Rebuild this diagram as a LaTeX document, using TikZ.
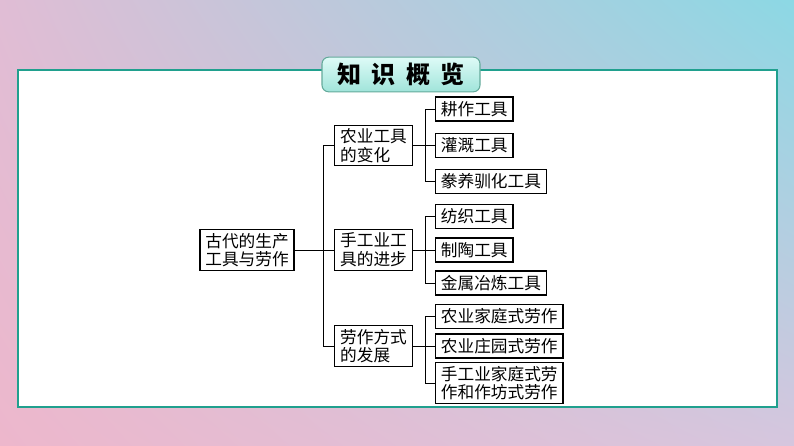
\documentclass[tikz,border=0pt]{standalone}
\usepackage{fontspec}
\usetikzlibrary{shadings}
\newfontfamily\cjk{Noto Sans CJK SC}
\definecolor{bgtl}{RGB}{224,189,213}
\definecolor{bgtr}{RGB}{140,216,228}
\definecolor{bgbl}{RGB}{237,183,204}
\definecolor{bgbr}{RGB}{214,198,222}
\definecolor{panelteal}{RGB}{32,160,142}
\definecolor{titletop}{RGB}{222,251,247}
\definecolor{titlebot}{RGB}{160,228,218}
\definecolor{titleedge}{RGB}{100,170,155}

\begin{document}
\begin{tikzpicture}[x=0.75pt,y=0.75pt,yscale=-1,xscale=1,
  box/.style={draw,line width=0.9pt,fill=white,inner xsep=4pt,inner ysep=2.5pt,align=left,font=\cjk\fontsize{12.5}{14}\selectfont},
  leaf/.style={box,anchor=west,minimum height=18pt},
  link/.style={line width=0.75pt}]
\useasboundingbox (0,0) rectangle (794,446);

%Background
\shade[upper left=bgtl,upper right=bgtr,lower left=bgbl,lower right=bgbr] (0,0) rectangle (794,446);
\draw [draw=panelteal,fill=white,line width=1.6pt] (18,70) rectangle (777,407);

% Title Node
\node [draw=titleedge,line width=0.8pt,rounded corners=5pt,top color=titletop,bottom color=titlebot,minimum width=118.5pt,minimum height=26pt,font=\cjk\bfseries\fontsize{18}{20}\selectfont] (title) at (401,74.5) {知\hspace{8pt}识\hspace{8pt}概\hspace{8pt}览};

% Text Node
\draw (247,250) node [box] (root) {古代的生产\\工具与劳作};
% Text Node
\draw (373.5,145.5) node [box] (agri) {农业工具\\的变化};
\draw (373.5,250) node [box] (craft) {手工业工\\具的进步};
\draw (373.5,346) node [box] (labor) {劳作方式\\的发展};
% Text Node
\draw (435,109) node [leaf] (plough) {耕作工具};
\draw (435,145.5) node [leaf] (irrig) {灌溉工具};
\draw (435,181.5) node [leaf] (breed) {豢养驯化工具};
\draw (435,216.5) node [leaf] (spin) {纺织工具};
\draw (435,250) node [leaf] (pottery) {制陶工具};
\draw (435,283) node [leaf] (metal) {金属冶炼工具};
\draw (435,316.5) node [leaf] (family) {农业家庭式劳作};
\draw (435,346) node [leaf] (manor) {农业庄园式劳作};
\draw (435,383) node [leaf] (workshop) {手工业家庭式劳\\作和作坊式劳作};

%Straight Lines
\draw [link] (root) -- (craft);
\draw [link] (agri.west) -- +(-11,0) |- (labor.west);
%Straight Lines
\draw [link] (agri) -- (irrig);
\draw [link] (plough.west) -- +(-10,0) |- (breed.west);
\draw [link] (craft) -- (pottery);
\draw [link] (spin.west) -- +(-10,0) |- (metal.west);
\draw [link] (labor) -- (manor);
\draw [link] (family.west) -- +(-10,0) |- (workshop.west);

\end{tikzpicture}
\end{document}
